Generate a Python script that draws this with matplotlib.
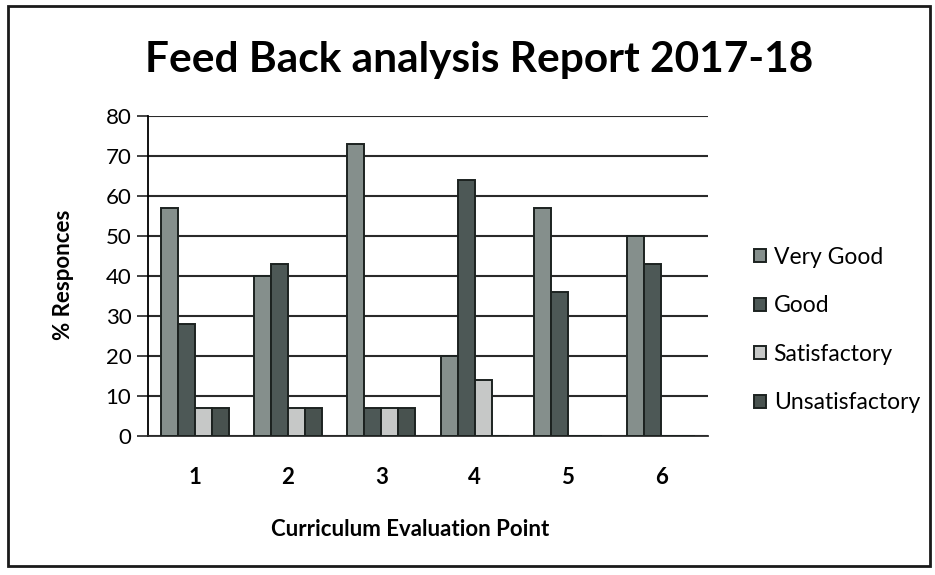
import matplotlib.pyplot as plt
import numpy as np
from matplotlib.patches import Rectangle

plt.rcParams['font.family'] = ['Lato', 'DejaVu Sans']

points = ["1", "2", "3", "4", "5", "6"]
very_good = [57, 40, 73, 20, 57, 50]
good = [28, 43, 7, 64, 36, 43]
satisfactory = [7, 7, 7, 14, 0, 0]
unsatisfactory = [7, 7, 7, 0, 0, 0]

series = [("Very Good", very_good, "#858f8c"),
          ("Good", good, "#4d5856"),
          ("Satisfactory", satisfactory, "#c6c8c7"),
          ("Unsatisfactory", unsatisfactory, "#48524f")]

fig = plt.figure(figsize=(9.35, 5.75), dpi=100)
ax = fig.add_axes([148 / 935, 1 - 436 / 575, 560 / 935, 320 / 575])

x = np.arange(len(points)) + 1
width = 1 / 5.5
for i, (name, vals, col) in enumerate(series):
    ax.bar(x + (i - 1.5) * width, vals, width=width, color=col,
           edgecolor="#1c2220", linewidth=1.4, label=name, zorder=3)

ax.set_xlim(0.5, 6.5)
ax.set_ylim(0, 80)
ax.set_yticks(range(0, 81, 10))
ax.set_xticks(x)
ax.set_xticklabels(points, fontsize=16, fontweight="bold")
ax.tick_params(axis="x", length=0, pad=22)
ax.tick_params(axis="y", length=8, width=1.2, labelsize=16, pad=4, color="#222222")
ax.yaxis.grid(True, color="#2a2a2a", linewidth=1.5, zorder=0)
ax.set_axisbelow(True)
for s in ["top", "right"]:
    ax.spines[s].set_visible(False)
ax.spines["left"].set_linewidth(1.3)
ax.spines["bottom"].set_linewidth(1.3)
ax.spines["bottom"].set_color("#2a2a2a")

fig.text(479 / 935, 1 - 60 / 575, "Feed Back analysis Report 2017-18",
         ha="center", va="center", fontsize=30.5, fontweight="bold")
fig.text(63 / 935, 1 - 275 / 575, "% Responces", rotation=90,
         ha="center", va="center", fontsize=16, fontweight="bold")
fig.text(410 / 935, 1 - 530 / 575, "Curriculum Evaluation Point",
         ha="center", va="center", fontsize=16, fontweight="bold")

ax.legend(loc="center left", bbox_to_anchor=(745 / 935, 1 - 330 / 575),
          bbox_transform=fig.transFigure, frameon=False, fontsize=16.5,
          handlelength=0.5, handleheight=0.5, handletextpad=0.35,
          labelspacing=1.2, borderaxespad=0)

fig.patches.append(Rectangle((8 / 935, 1 - 566 / 575), 922 / 935, 560 / 575,
                             transform=fig.transFigure, fill=False,
                             edgecolor="#1a1a1a", linewidth=2))

fig.savefig("out.png", dpi=100)
